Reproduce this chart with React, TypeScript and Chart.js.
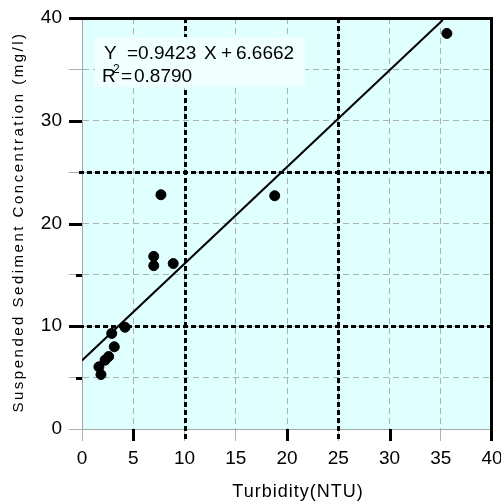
import React, { useEffect, useRef } from "react";
import { Chart, registerables } from "chart.js";

Chart.register(...registerables);

// Observed samples
const turbidity = [35.6, 18.8, 7.7, 7.0, 7.0, 8.9, 4.2, 2.9, 3.15, 2.6, 2.25, 1.65, 1.85];
const sediment = [38.5, 22.7, 22.8, 16.8, 15.9, 16.1, 9.9, 9.3, 8.0, 7.05, 6.7, 6.05, 5.3];

// Regression line end points
const fitX = [0, 35.2];
const fitY = [6.67, 39.8];

// Axis settings
const xRange = [0, 40];
const yRange = [0, 40];
const gridStep = 5;
const yLabelStep = 10;
const heavyGrid = [10, 25];
const xHeavyTicks = [5, 20, 30];
const yHeavyTicks = [10, 20, 30];
const yMinorHeavyTicks = [5, 15];

const equationParts = ["Y", "=0.9423", "X", "+", "6.6662"];
const r2Parts = ["R", "2", "=", "0.8790"];
const xTitle = "Turbidity(NTU)";
const yTitle = "Suspended Sediment Concentration (mg/l)";

const FONT = "'Liberation Sans', Arial, Helvetica, sans-serif";

const decorPlugin = {
  id: "decor",
  beforeDraw(chart: any) {
    const { ctx, chartArea: a } = chart;
    ctx.save();
    ctx.fillStyle = "#e0ffff";
    ctx.fillRect(a.left, a.top, a.right - a.left, a.bottom - a.top);
    ctx.restore();
  },
  beforeDatasetsDraw(chart: any) {
    const { ctx, chartArea: a, scales } = chart;
    const xs = scales.x;
    const ys = scales.y;
    ctx.save();

    ctx.strokeStyle = "#000";
    ctx.lineWidth = 3;
    ctx.lineCap = "butt";
    // heavy dashed grid
    ctx.setLineDash([5, 3]);
    heavyGrid.forEach((v) => {
      const px = Math.round(xs.getPixelForValue(v)) + 0.5;
      ctx.beginPath();
      ctx.moveTo(px, a.top);
      ctx.lineTo(px, a.bottom + 12);
      ctx.stroke();
      const py = Math.round(ys.getPixelForValue(v)) + 0.5;
      ctx.beginPath();
      ctx.moveTo(a.right, py);
      ctx.lineTo(a.left - (v % yLabelStep === 0 ? 13 : 6), py);
      ctx.stroke();
    });
    ctx.setLineDash([]);

    // equation box (covers the grid)
    ctx.fillStyle = "#f0ffff";
    ctx.fillRect(95, 37, 210, 50);

    // heavy ticks
    xHeavyTicks.forEach((v) => {
      const px = Math.round(xs.getPixelForValue(v)) + 0.5;
      ctx.beginPath();
      ctx.moveTo(px, a.bottom);
      ctx.lineTo(px, a.bottom + 12);
      ctx.stroke();
    });
    yHeavyTicks.forEach((v) => {
      const py = Math.round(ys.getPixelForValue(v)) + 0.5;
      ctx.beginPath();
      ctx.moveTo(a.left, py);
      ctx.lineTo(a.left - 13, py);
      ctx.stroke();
    });
    yMinorHeavyTicks.forEach((v) => {
      const py = Math.round(ys.getPixelForValue(v)) + 0.5;
      ctx.beginPath();
      ctx.moveTo(a.left, py);
      ctx.lineTo(a.left - 6, py);
      ctx.stroke();
    });
    // top and right border
    const topY = Math.round(ys.getPixelForValue(yRange[1])) + 0.5;
    const rightX = Math.round(xs.getPixelForValue(xRange[1])) - 0.5;
    ctx.beginPath();
    ctx.moveTo(a.left - 13, topY);
    ctx.lineTo(rightX + 1.5, topY);
    ctx.stroke();
    ctx.beginPath();
    ctx.moveTo(rightX, topY);
    ctx.lineTo(rightX, a.bottom + 12);
    ctx.stroke();
    ctx.restore();
  },
  afterDraw(chart: any) {
    const { ctx, chartArea: a } = chart;
    ctx.save();
    ctx.fillStyle = "#000";
    ctx.textBaseline = "alphabetic";
    ctx.textAlign = "left";
    ctx.font = `19px ${FONT}`;
    ctx.fillText(equationParts[0], 104, 59);
    ctx.fillText(equationParts[1], 127, 59);
    ctx.fillText(equationParts[2], 204, 59);
    ctx.fillText(equationParts[3], 221, 59);
    ctx.fillText(equationParts[4], 236, 59);
    ctx.fillText(r2Parts[0], 102, 82);
    ctx.font = `12px ${FONT}`;
    ctx.fillText(r2Parts[1], 113, 73);
    ctx.font = `19px ${FONT}`;
    ctx.fillText(r2Parts[2], 121, 82);
    ctx.fillText(r2Parts[3], 134, 82);

    // axis titles
    ctx.font = `18px ${FONT}`;
    (ctx as any).letterSpacing = "1px";
    ctx.textAlign = "center";
    ctx.fillText(xTitle, 298, 497);

    ctx.translate(23, 222);
    ctx.rotate(-Math.PI / 2);
    ctx.font = `15px ${FONT}`;
    (ctx as any).letterSpacing = "2.5px";
    ctx.fillText(yTitle, 0, 0);
    ctx.restore();
  },
};

export default function App() {
  const ref = useRef<HTMLCanvasElement>(null);
  useEffect(() => {
    if (!ref.current) return;
    Chart.defaults.font.family = FONT;
    const points = turbidity.map((x, i) => ({ x, y: sediment[i] }));
    const fit = fitX.map((x, i) => ({ x, y: fitY[i] }));
    const chart = new Chart(ref.current, {
      type: "scatter",
      data: {
        datasets: [
          {
            type: "line",
            data: fit,
            borderColor: "#000",
            borderWidth: 2,
            pointRadius: 0,
            showLine: true,
          } as any,
          {
            type: "scatter",
            data: points,
            backgroundColor: "#000",
            borderColor: "#000",
            pointRadius: 5,
            pointHoverRadius: 5,
          },
        ],
      },
      options: {
        responsive: false,
        animation: false,
        events: [],
        layout: { padding: { top: 18, right: 9, left: 0, bottom: 0 } },
        plugins: { legend: { display: false }, tooltip: { enabled: false } },
        scales: {
          x: {
            type: "linear",
            min: xRange[0],
            max: xRange[1],
            ticks: {
              stepSize: gridStep,
              color: "#000",
              font: { size: 19 },
              padding: 6,
              maxRotation: 0,
            },
            grid: {
              color: (c: any) =>
                c.tick && (c.tick.value === xRange[0] || c.tick.value === xRange[1]) ? "rgba(0,0,0,0)" : "#a9b3b3",
              tickColor: "#a9b3b3",
              lineWidth: 1,
              tickLength: 12,
            },
            border: { display: true, color: "#a0a8a8", width: 1, dash: [6, 4] },
            afterFit(s: any) {
              s.height = 73;
              s.paddingLeft = 0;
              s.paddingRight = 0;
            },
          },
          y: {
            type: "linear",
            min: yRange[0],
            max: yRange[1],
            ticks: {
              stepSize: gridStep,
              color: "#000",
              font: { size: 19 },
              padding: 7,
              callback: (v: any) => (Number(v) % yLabelStep === 0 ? String(v) : ""),
            },
            grid: {
              color: (c: any) =>
                c.tick && (c.tick.value === yRange[0] || c.tick.value === yRange[1]) ? "rgba(0,0,0,0)" : "#a9b3b3",
              tickColor: "#a9b3b3",
              lineWidth: 1,
              tickLength: 13,
            },
            border: { display: true, color: "#a0a8a8", width: 1, dash: [6, 4] },
            afterFit(s: any) {
              s.width = 82;
              s.paddingTop = 0;
              s.paddingBottom = 0;
            },
          },
        },
      },
      plugins: [decorPlugin],
    });
    return () => chart.destroy();
  }, []);
  return (
    <div style={{ position: "absolute", left: 0, top: 0, width: 501, height: 502, background: "#fff" }}>
      <canvas ref={ref} width={501} height={502} style={{ display: "block" }} />
    </div>
  );
}
